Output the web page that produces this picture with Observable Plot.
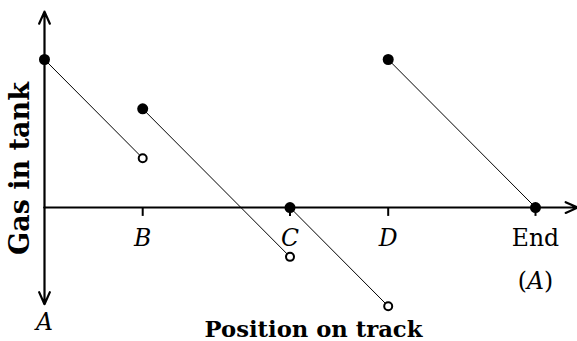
<!DOCTYPE html>
<html>
<head>
<meta charset="utf-8">
<script src="https://cdn.jsdelivr.net/npm/d3@7"></script>
<script src="https://cdn.jsdelivr.net/npm/@observablehq/plot@0.6"></script>
<style>
  html, body { margin: 0; padding: 0; background: #fff; }
  svg { display: block; }
</style>
</head>
<body>
<div id="chart"></div>
<script>
// Track stops (x positions on the track)
const stopNames = ["B", "C", "D", "End"];
const stopPos = [2, 5, 7, 10];
const stopItalic = [true, true, true, false];
const startName = "A";
const endSubLabel = "(A)";

// Gas-in-tank segments between refuels
const segStartX = [0, 2, 5, 7];
const segStartGas = [3, 2, 0, 3];
const segEndX = [2, 5, 7, 10];
const segEndGas = [1, -1, -2, 0];
const segEndOpen = [true, true, true, false];

const xTitle = "Position on track";
const yTitle = "Gas in tank";

const segs = segStartX.map((x, i) => ({x1: x, y1: segStartGas[i], x2: segEndX[i], y2: segEndGas[i], open: segEndOpen[i]}));
const filledPts = [
  ...segs.map(s => ({x: s.x1, y: s.y1})),
  ...segs.filter(s => !s.open).map(s => ({x: s.x2, y: s.y2}))
];
const openPts = segs.filter(s => s.open).map(s => ({x: s.x2, y: s.y2}));
const ticks = stopNames.map((n, i) => ({name: n, x: stopPos[i], italic: stopItalic[i]}));

const serif = "DejaVu Serif";

const chart = Plot.plot({
  width: 577,
  height: 341,
  margin: 0,
  style: {background: "#fff", color: "#000"},
  x: {domain: [0, 10], range: [44, 535], axis: null},
  y: {domain: [-2, 3], range: [305.7, 59], axis: null},
  marks: [
    // axes
    Plot.arrow([{x1: 0, y1: 0, x2: 0, y2: 3.97}, {x1: 0, y1: 0, x2: 0, y2: -1.96}, {x1: 0, y1: 0, x2: 10.86, y2: 0}],
      {x1: "x1", y1: "y1", x2: "x2", y2: "y2", stroke: "#000", strokeWidth: 2.2, headLength: 9, headAngle: 48}),
    Plot.ruleX(ticks, {x: "x", y1: 0, y2: -0.18, stroke: "#000", strokeWidth: 2}),
    // segments
    Plot.link(segs, {x1: "x1", y1: "y1", x2: "x2", y2: "y2", stroke: "#000", strokeWidth: 1}),
    Plot.dot(filledPts, {x: "x", y: "y", r: 5.5, fill: "#000", stroke: null}),
    Plot.dot(openPts, {x: "x", y: "y", r: 4, fill: "#fff", stroke: "#000", strokeWidth: 2}),
    // tick labels
    Plot.text(ticks.filter(d => d.italic), {x: "x", y: 0, text: "name", dy: 38, lineAnchor: "bottom", fontFamily: serif, fontStyle: "italic", fontSize: 23.5, fill: "#000"}),
    Plot.text(ticks.filter(d => !d.italic), {x: "x", y: 0, text: "name", dy: 38, lineAnchor: "bottom", fontFamily: serif, fontSize: 23.5, fill: "#000"}),
    Plot.text([endSubLabel], {x: stopPos[stopPos.length - 1], y: 0, text: d => d, dy: 81, lineAnchor: "bottom", fontFamily: serif, fontSize: 23.5, fill: "#000", className: "sublabel"}),
    Plot.text([startName], {x: 0, y: -2, text: d => d, dy: 24, lineAnchor: "bottom", fontFamily: serif, fontStyle: "italic", fontSize: 23.5, fill: "#000"}),
    // titles
    Plot.text([xTitle], {frameAnchor: "bottom", dx: 24.5, dy: -5, lineAnchor: "bottom", textAnchor: "middle", fontFamily: serif, fontWeight: "bold", fontSize: 22.7, fill: "#000"}),
    Plot.text([yTitle], {frameAnchor: "left", dx: 20, dy: -2.5, rotate: -90, lineAnchor: "middle", textAnchor: "middle", fontFamily: serif, fontWeight: "bold", fontSize: 27, fill: "#000"})
  ]
});

// italicise the A inside "(A)"
d3.select(chart).selectAll("g.sublabel text").each(function() {
  const t = d3.select(this);
  const s = t.text();
  const i = s.indexOf("A");
  if (i < 0) return;
  t.text(null);
  t.append("tspan").text(s.slice(0, i));
  t.append("tspan").attr("font-style", "italic").text("A");
  t.append("tspan").text(s.slice(i + 1));
});

document.getElementById("chart").appendChild(chart);
</script>
</body>
</html>
